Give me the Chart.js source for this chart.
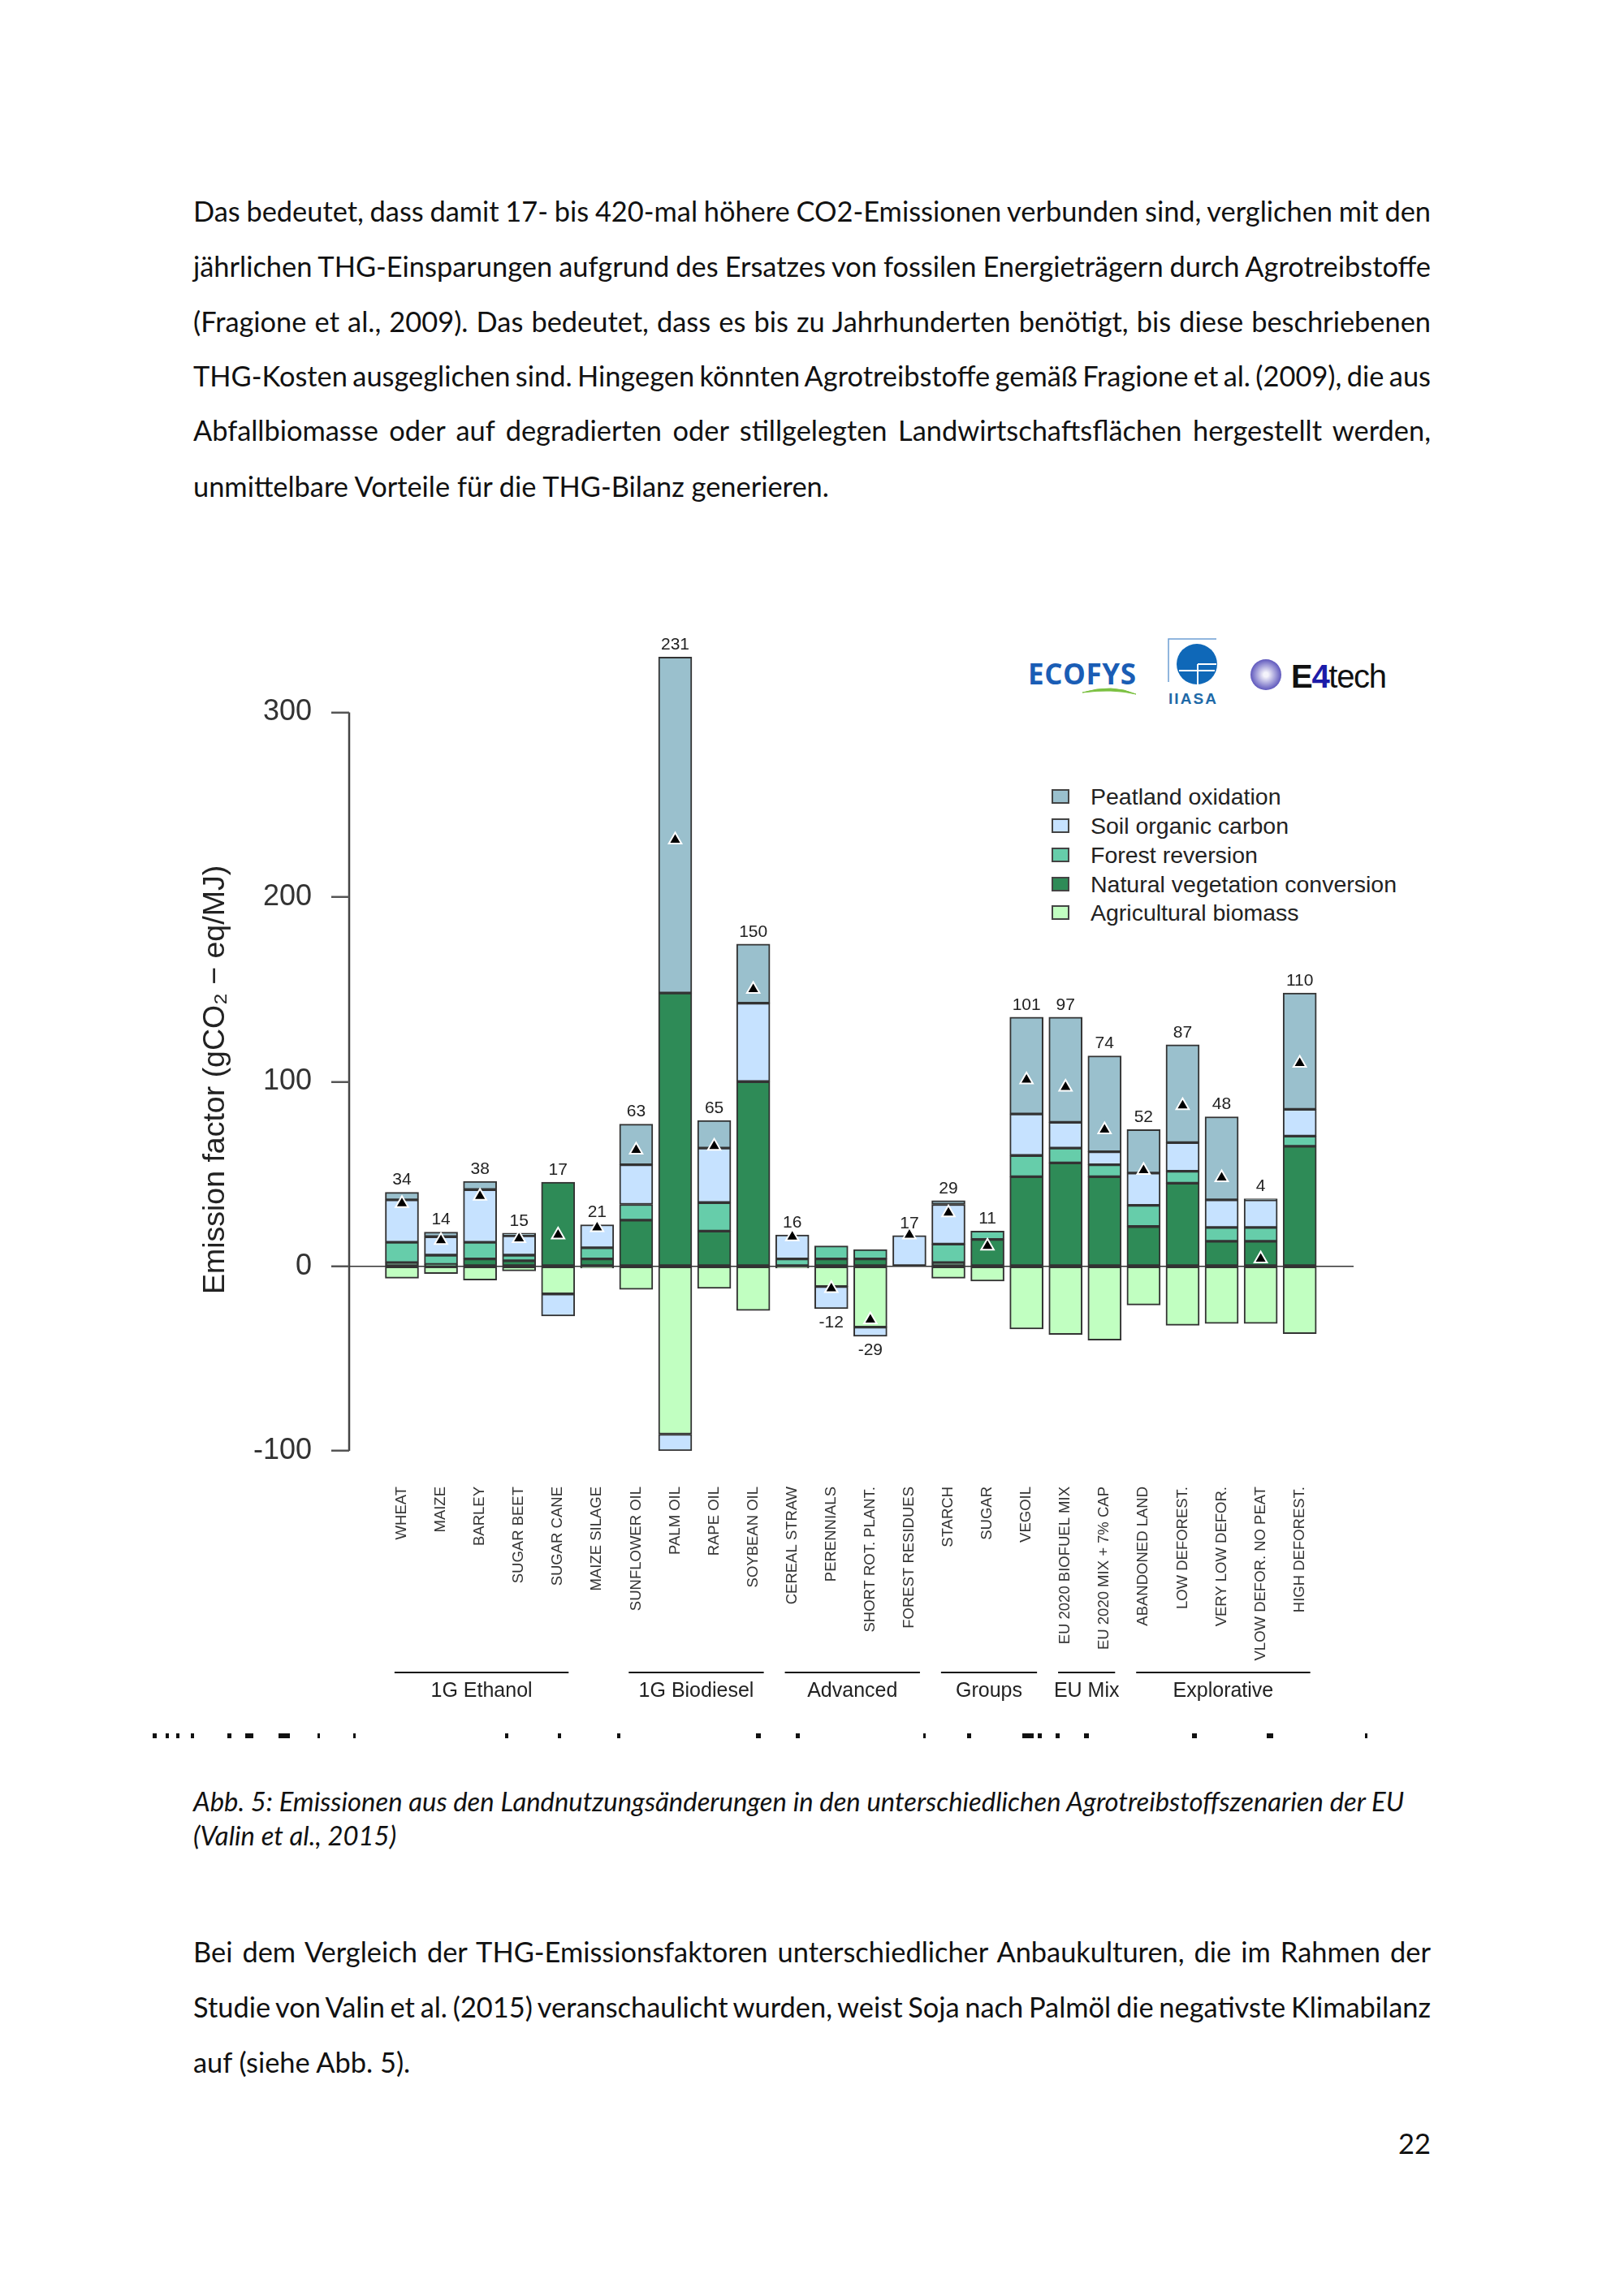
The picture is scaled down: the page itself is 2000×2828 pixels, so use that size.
<!DOCTYPE html>
<html lang="de">
<head>
<meta charset="utf-8">
<title>Abb. 5</title>
<script src="https://cdn.jsdelivr.net/npm/chart.js@4/dist/chart.umd.min.js"></script>
<style>
  html, body { margin: 0; background: #fff; }
  #page { position: relative; width: 2000px; height: 2828px; overflow: hidden; color: #111; font-family: Lato, sans-serif; }
  #page canvas { position: absolute; left: 0; top: 0; }
  .line { position: absolute; left: 238px; font-size: 34.4px; line-height: 44px; white-space: nowrap; }
  .cap { position: absolute; left: 238px; width: 1540px; font-size: 32.85px; line-height: 41px; font-style: italic; white-space: nowrap; }
  .num { position: absolute; left: 1700px; width: 62px; top: 2618px; text-align: right; font-size: 34.4px; line-height: 44px; }
  .lg { position: absolute; left: 1343px; font: 28.5px "Liberation Sans", sans-serif; line-height: 34px; color: #222; white-space: nowrap; }
  .sw { position: absolute; left: 1295px; width: 22px; height: 18px; border: 2px solid #444; box-sizing: border-box; }
  .cut { position: absolute; top: 2135px; height: 6px; background: #111; }
  #logos { position: absolute; left: 1240px; top: 770px; }
</style>
</head>
<body>
<div id="page">
  <div id="text"></div>
  <svg id="logos" width="500" height="110" viewBox="1240 770 500 110">
    <defs>
      <radialGradient id="ring"><stop offset="0.15" stop-color="#f4f3fb"/><stop offset="1" stop-color="#5f58bd"/></radialGradient>
    </defs>
    <text x="1266" y="843" font-family="Open Sans, sans-serif" font-weight="700" font-size="35" fill="#1a5db5" textLength="133">ECOFYS</text>
    <path d="M1333 853 Q1370 842 1399 855 Q1370 848 1333 853 Z" fill="#7cc142" stroke="#7cc142"/>
    <path d="M1439 840 V787 H1498" fill="none" stroke="#6d9fd4" stroke-width="1.5"/>
    <circle cx="1474" cy="818" r="25" fill="#0f68b8"/>
    <path d="M1452 826 H1496 M1475 818 H1498 M1475 818 V843" stroke="#fff" stroke-width="2" fill="none"/>
    <text x="1439" y="867" font-family="Liberation Sans, sans-serif" font-weight="700" font-size="19" fill="#1f6aa8" textLength="59">IIASA</text>
    <circle cx="1559" cy="831" r="19" fill="url(#ring)"/>
    <text x="1590" y="847" font-family="Liberation Sans, sans-serif" font-size="40" fill="#111" textLength="118"><tspan font-weight="700">E</tspan><tspan font-weight="700" fill="#1b1ba8">4</tspan><tspan>tech</tspan></text>
  </svg>
  <div id="legend"></div>
  <canvas id="chart" width="2000" height="2200"></canvas>
</div>

<script>
const bodyTop = [
  "Das bedeutet, dass damit 17- bis 420-mal höhere CO2-Emissionen verbunden sind, verglichen mit den",
  "jährlichen THG-Einsparungen aufgrund des Ersatzes von fossilen Energieträgern durch Agrotreibstoffe",
  "(Fragione et al., 2009). Das bedeutet, dass es bis zu Jahrhunderten benötigt, bis diese beschriebenen",
  "THG-Kosten ausgeglichen sind. Hingegen könnten Agrotreibstoffe gemäß Fragione et al. (2009), die aus",
  "Abfallbiomasse oder auf degradierten oder stillgelegten Landwirtschaftsflächen hergestellt werden,",
  "unmittelbare Vorteile für die THG-Bilanz generieren."
];
const bodyBottom = [
  "Bei dem Vergleich der THG-Emissionsfaktoren unterschiedlicher Anbaukulturen, die im Rahmen der",
  "Studie von Valin et al. (2015) veranschaulicht wurden, weist Soja nach Palmöl die negativste Klimabilanz",
  "auf (siehe Abb. 5)."
];
const caption = [
  "Abb. 5: Emissionen aus den Landnutzungsänderungen in den unterschiedlichen Agrotreibstoffszenarien der EU",
  "(Valin et al., 2015)"
];

const categories = ["WHEAT","MAIZE","BARLEY","SUGAR BEET","SUGAR CANE","MAIZE SILAGE","SUNFLOWER OIL","PALM OIL","RAPE OIL","SOYBEAN OIL","CEREAL STRAW","PERENNIALS","SHORT ROT. PLANT.","FOREST RESIDUES","STARCH","SUGAR","VEGOIL","EU 2020 BIOFUEL MIX","EU 2020 MIX + 7% CAP","ABANDONED LAND","LOW DEFOREST.","VERY LOW DEFOR.","VLOW DEFOR. NO PEAT","HIGH DEFOREST."];

// layer sizes (gCO2-eq/MJ); soil carbon goes negative on a few bars
const natural = [2,1,4,3,45.5,4,25,148,19,100,null,4,4,null,2,14.5,48.5,56,48.5,21.5,45,13.5,13.5,65];
const forest  = [11,5,9,3,null,6,8.5,null,15.5,null,4,7,5,null,10,4.5,11.5,8,6.5,11.5,6.5,7.5,7.5,5.5];
const soil    = [23,10,28.5,10.5,-12,12.5,21.5,-9,29.5,42.5,13,-12,-5,16.6,21.5,null,22.5,14,7,17.5,15.5,15,15,14.5];
const peat    = [4,2.5,4.5,1.5,null,null,22,182,15,32,null,null,null,null,2,null,52.5,57,52,23.5,53,45,0.5,63];
const agri    = [-6.5,-4,-7.5,-2.5,-15,-1,-12.5,-91,-12,-24,-1,-11,-33,null,-6.5,-8,-34,-37,-40,-21,-32,-31,-31,-36.5];
const totals  = [34,14,38,15,17,21,63,231,65,150,16,-12,-29,17,29,11,101,97,74,52,87,48,4,110];

const yTicks = [-100,0,100,200,300];
const yTitle = "Emission factor (gCO₂ − eq/MJ)";
const groupNames = ["1G Ethanol","1G Biodiesel","Advanced","Groups","EU Mix","Explorative"];
const groupFirst = [0,6,10,14,17,19];
const groupLast  = [4,9,13,16,18,23];

const legendNames = ["Peatland oxidation","Soil organic carbon","Forest reversion","Natural vegetation conversion","Agricultural biomass"];
const legendColors = ["#9ac0cd","#c6e2ff","#66cdaa","#2e8b57","#c1ffc1"];
const legendRows = [981,1017,1053,1089,1124];

// clipped line of text under the figure in the source scan
const cutX = [188,204,217,235,280,302,343,391,435,622,687,760,931,980,1137,1191,1259,1278,1300,1335,1468,1560,1681];
const cutW = [5,4,4,4,5,10,14,3,3,4,4,4,6,5,3,5,14,5,5,6,6,8,3];

// every line but the last of a paragraph is stretched to the text width
function addLines(list, tops, cls) {
  const host = document.getElementById('text');
  list.forEach((t, i) => {
    const d = document.createElement('div');
    d.className = cls;
    d.style.top = tops[i] + 'px';
    d.textContent = t;
    host.appendChild(d);
    if (cls === 'line' && i < list.length - 1) {
      const gaps = t.split(' ').length - 1;
      d.style.wordSpacing = (1524 - d.getBoundingClientRect().width) / gaps + 'px';
    }
  });
}
addLines(bodyTop, [238,306,374,441,508,577], 'line');
addLines(bodyBottom, [2382,2450,2518], 'line');
addLines(caption, [2198,2240], 'cap');
const pageNum = document.createElement('div');
pageNum.className = 'num';
pageNum.textContent = '22';
document.getElementById('text').appendChild(pageNum);

cutX.forEach((x, i) => {
  const c = document.createElement('div');
  c.className = 'cut';
  c.style.left = x + 'px';
  c.style.width = cutW[i] + 'px';
  document.getElementById('text').appendChild(c);
});

const legendHost = document.getElementById('legend');
legendNames.forEach((name, i) => {
  const sw = document.createElement('div');
  sw.className = 'sw';
  sw.style.top = (legendRows[i] - 9) + 'px';
  sw.style.background = legendColors[i];
  legendHost.appendChild(sw);
  const t = document.createElement('div');
  t.className = 'lg';
  t.style.top = (legendRows[i] - 17) + 'px';
  t.textContent = name;
  legendHost.appendChild(t);
});

// labels over the bars, group brackets under the axis, axis line and title
const annotations = {
  id: 'annotations',
  afterDatasetsDraw(chart) {
    const { ctx, scales: { x, y } } = chart;
    ctx.save();
    ctx.fillStyle = '#222';
    ctx.textAlign = 'center';
    ctx.textBaseline = 'middle';
    ctx.font = '21px "Liberation Sans"';
    totals.forEach((t, i) => {
      const up = [natural, forest, soil, peat].reduce((s, a) => s + Math.max(a[i] || 0, 0), 0);
      const down = [agri, soil].reduce((s, a) => s + Math.min(a[i] || 0, 0), 0);
      const py = t < 0 ? y.getPixelForValue(down) + 17 : y.getPixelForValue(up) - 15;
      ctx.fillText(String(t), x.getPixelForValue(i), py);
    });
    ctx.font = '25px "Liberation Sans"';
    ctx.strokeStyle = '#111';
    ctx.lineWidth = 2;
    groupNames.forEach((g, i) => {
      const a = x.getPixelForValue(groupFirst[i] - 0.19);
      const b = x.getPixelForValue(groupLast[i] + 0.27);
      ctx.beginPath();
      ctx.moveTo(a, 2060);
      ctx.lineTo(b, 2060);
      ctx.stroke();
      ctx.fillText(g, (a + b) / 2, 2083);
    });
    // R style axis line, only from the first to the last tick
    ctx.strokeStyle = '#444';
    ctx.lineWidth = 2.5;
    ctx.beginPath();
    ctx.moveTo(x.left, y.getPixelForValue(300));
    ctx.lineTo(x.left, y.getPixelForValue(-100));
    ctx.stroke();
    ctx.translate(266, 1330);
    ctx.rotate(-Math.PI / 2);
    ctx.font = '37.5px "Liberation Sans"';
    ctx.fillText(yTitle, 0, 0);
    ctx.restore();
  }
};

function layer(label, values, color) {
  return {
    type: 'bar',
    label,
    data: values.map((v, i) => ({ x: i, y: v })),
    backgroundColor: color,
    borderColor: '#333',
    borderWidth: 2,
    borderSkipped: false,
    barThickness: 41,
    order: 2
  };
}

new Chart(document.getElementById('chart'), {
  type: 'bar',
  data: {
    datasets: [
      layer('Agricultural biomass', agri, legendColors[4]),
      layer('Natural vegetation conversion', natural, legendColors[3]),
      layer('Forest reversion', forest, legendColors[2]),
      layer('Soil organic carbon', soil, legendColors[1]),
      layer('Peatland oxidation', peat, legendColors[0]),
      {
        type: 'scatter',
        label: 'Total',
        data: totals.map((v, i) => ({ x: i, y: v })),
        pointStyle: 'triangle',
        pointRadius: 9,
        backgroundColor: '#000',
        borderColor: '#fff',
        borderWidth: 2,
        order: 1
      }
    ]
  },
  options: {
    responsive: false,
    animation: false,
    layout: { padding: { left: 244, top: 798, right: 333, bottom: 0 } },
    plugins: { legend: { display: false }, tooltip: { enabled: false } },
    scales: {
      x: {
        type: 'linear',
        stacked: true,
        offset: false,
        min: -1.352,
        max: 24.38,
        afterBuildTicks(s) { s.ticks = categories.map((c, i) => ({ value: i })); },
        afterFit(s) { s.height = 2200 - 1787; },
        grid: { display: false },
        border: { display: false },
        ticks: {
          autoSkip: false,
          minRotation: 90,
          maxRotation: 90,
          padding: 36,
          color: '#333',
          font: { family: 'Liberation Sans', size: 18.5 },
          callback: v => categories[v]
        }
      },
      y: {
        stacked: true,
        min: -100,
        max: 335,
        afterBuildTicks(s) { s.ticks = yTicks.map(v => ({ value: v })); },
        afterFit(s) { s.width = 430 - 244; },
        border: { display: false },
        grid: {
          z: 1,
          tickLength: 22,
          tickColor: '#555',
          tickWidth: 2.5,
          lineWidth: 1.5,
          color: c => (c.tick && c.tick.value === 0 ? '#333' : 'transparent')
        },
        ticks: {
          padding: 24,
          color: '#333',
          font: { family: 'Liberation Sans', size: 36 }
        }
      }
    }
  },
  plugins: [annotations]
});
</script>
</body>
</html>
